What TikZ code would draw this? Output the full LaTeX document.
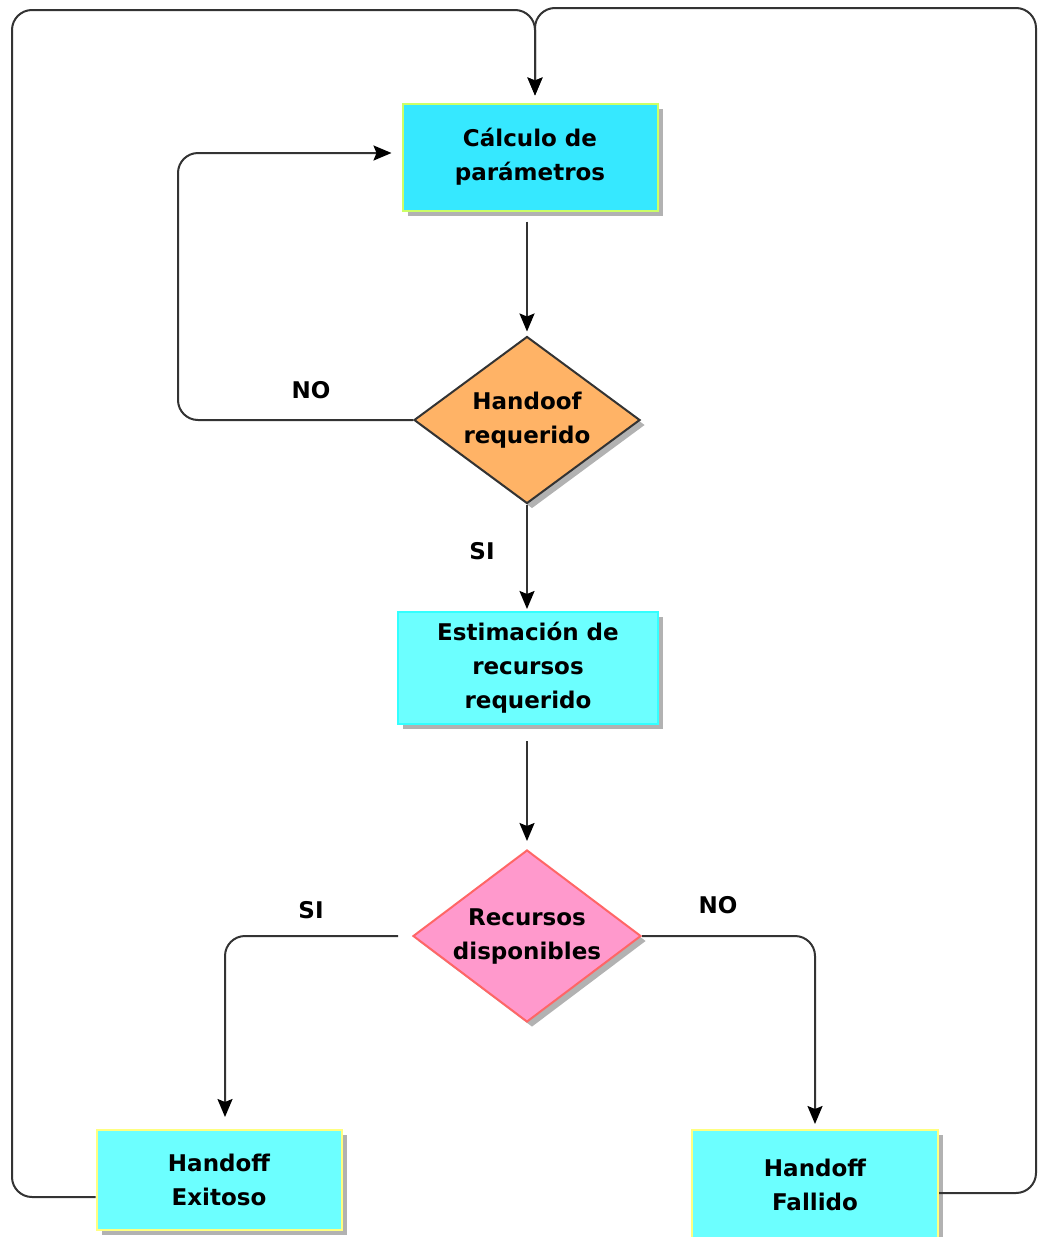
\documentclass[tikz,border=0pt]{standalone}
\usepackage{fontspec}
\setmainfont{DejaVu Sans}
\usetikzlibrary{shapes.geometric,arrows.meta,shadows}
\definecolor{calc}{HTML}{36E8FF}
\definecolor{calcline}{HTML}{CCFF66}
\definecolor{aqua}{HTML}{6CFFFF}
\definecolor{aqualine}{HTML}{33FFFF}
\definecolor{okline}{HTML}{FFFF80}
\definecolor{orangefill}{HTML}{FFB366}
\definecolor{pinkfill}{HTML}{FF99CC}
\definecolor{pinkline}{HTML}{FF6666}
\begin{document}
\begin{tikzpicture}[x=0.5pt,y=-0.5pt,
  txt/.style={font=\fontsize{11.5}{17}\selectfont\bfseries, align=center},
  shade/.style={drop shadow={shadow xshift=2.5pt, shadow yshift=-2.5pt, fill=black!30, opacity=1}},
  proc/.style={txt, rectangle, line width=1pt, inner sep=0pt, shade},
  decide/.style={txt, diamond, aspect=1.35, line width=1pt, inner sep=0pt, shade},
  link/.style={draw=black!80, line width=1pt, rounded corners=10pt,
    -{Stealth[length=9pt,width=7.5pt,inset=1.5pt,color=black]}}]
\useasboundingbox (0,0) rectangle (1040,1237);

\node[proc, fill=calc, draw=calcline, minimum width=127.5pt, minimum height=53.5pt]
  (calc) at (530,157) {Cálculo de\\parámetros};
\node[decide, fill=orangefill, draw=black!80, minimum width=113pt, minimum height=83.5pt]
  (req) at (527,420) {Handoof\\requerido};
\node[proc, fill=aqua, draw=aqualine, minimum width=130pt, minimum height=56pt]
  (est) at (528,668) {Estimación de\\recursos\\requerido};
\node[decide, fill=pinkfill, draw=pinkline, minimum width=114pt, minimum height=86pt]
  (disp) at (527,936) {Recursos\\disponibles};
\node[proc, fill=aqua, draw=okline, minimum width=122.5pt, minimum height=50pt]
  (ok) at (219,1180) {Handoff\\Exitoso};
\node[proc, fill=aqua, draw=okline, minimum width=123pt, minimum height=55pt]
  (fail) at (815,1185) {Handoff\\Fallido};

\node[txt] (noA) at (311,390) {NO};
\node[txt] (siA) at (482,551) {SI};
\node[txt] (siB) at (311,910) {SI};
\node[txt] (noB) at (718,905) {NO};

\draw[link, shorten <=5pt, shorten >=2pt] (calc.south -| req.north) -- (req.north);
\draw[link, shorten >=5pt] (req.west) -| (178,153) -- ([yshift=2pt]calc.west);
\draw[link, shorten >=1pt] (req.south) -- (est.north -| req.south);
\draw[link, shorten <=8pt, shorten >=4pt] (est.south -| disp.north) -- (disp.north);
\draw[link, shorten <=7pt, shorten >=6pt] (disp.west) -| ([xshift=3pt]ok.north);
\draw[link, shorten >=2.5pt] (disp.east) -| (fail.north);
\draw[link, shorten >=3.5pt] ([yshift=-8.5pt]ok.west) -| (12,10) -| ([xshift=2.5pt]calc.north);
\draw[link, shorten >=3.5pt] ([yshift=-4pt]fail.east) -| (1036,8) -| ([xshift=2.5pt]calc.north);
\end{tikzpicture}
\end{document}
